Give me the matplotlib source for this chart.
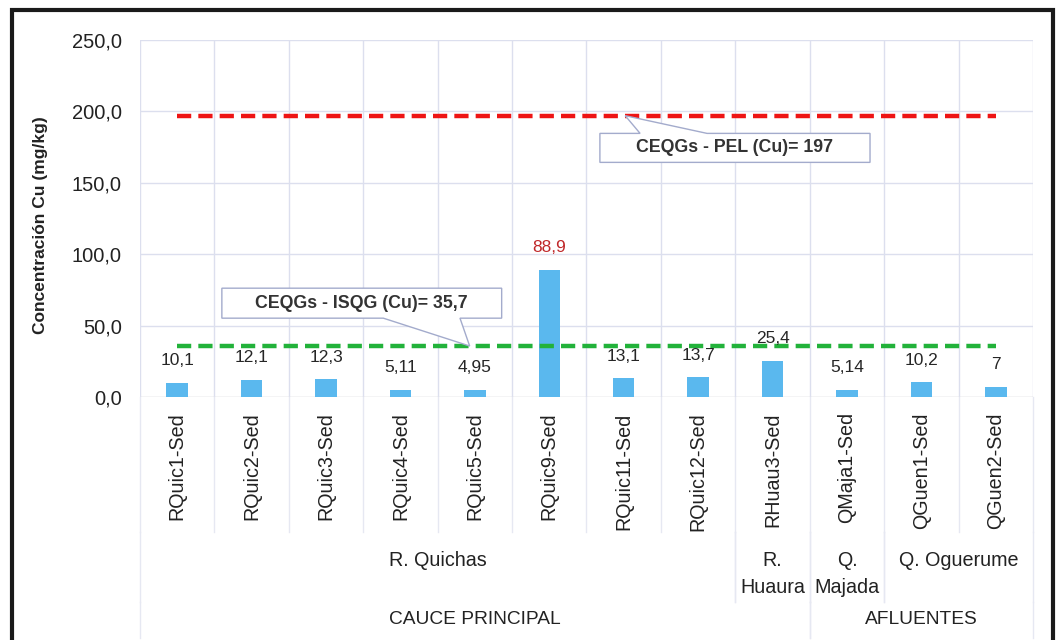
# Cu concentration in sediments - bar chart with CEQG reference lines
import matplotlib
matplotlib.use("Agg")
import matplotlib.pyplot as plt
import matplotlib.transforms as mtrans
from matplotlib.patches import Polygon, Rectangle
import numpy as np

plt.rcParams['font.family'] = ['Liberation Sans', 'DejaVu Sans']

# data
stations = ["RQuic1-Sed", "RQuic2-Sed", "RQuic3-Sed", "RQuic4-Sed", "RQuic5-Sed",
            "RQuic9-Sed", "RQuic11-Sed", "RQuic12-Sed", "RHuau3-Sed", "QMaja1-Sed",
            "QGuen1-Sed", "QGuen2-Sed"]
cu = [10.1, 12.1, 12.3, 5.11, 4.95, 88.9, 13.1, 13.7, 25.4, 5.14, 10.2, 7]
cu_text = ["10,1", "12,1", "12,3", "5,11", "4,95", "88,9", "13,1", "13,7", "25,4",
           "5,14", "10,2", "7"]
rivers = ["R. Quichas", "R.\nHuaura", "Q.\nMajada", "Q. Oguerume"]
river_span = [(0, 8), (8, 9), (9, 10), (10, 12)]
zones = ["CAUCE PRINCIPAL", "AFLUENTES"]
zone_span = [(0, 9), (9, 12)]
pel = 197
isqg = 35.7
yticks = [0, 50, 100, 150, 200, 250]

W, H = 1058, 640
fig = plt.figure(figsize=(W / 100, H / 100), dpi=100)
ax = fig.add_axes([140 / W, 1 - 397 / H, (1033 - 140) / W, (397 - 40) / H])

x = np.arange(len(stations))
ax.set_xlim(-0.5, len(stations) - 0.5)
ax.set_ylim(0, 250)

grid_c = "#dcdfee"
sep_c = "#e6e8f2"
for yv in yticks:
    ax.axhline(yv, color="#c8c8d0" if yv == 0 else grid_c, lw=1, zorder=0)

# category separators, extending down through the multi-level axis
trans = mtrans.blended_transform_factory(ax.transData, fig.transFigure)
y0 = 1 - 397 / H
for b in np.arange(len(stations) + 1) - 0.5:
    ax.axvline(b, color=grid_c, lw=1, zorder=0)
    ax.plot([b, b], [y0, 1 - 532 / H], color=sep_c, lw=1, transform=trans, clip_on=False)
for s, e in river_span:
    for b in (s - 0.5, e - 0.5):
        ax.plot([b, b], [1 - 532 / H, 1 - 602 / H], color=sep_c, lw=1,
                transform=trans, clip_on=False)
for s, e in zone_span:
    for b in (s - 0.5, e - 0.5):
        ax.plot([b, b], [1 - 602 / H, 1 - 638 / H], color=sep_c, lw=1,
                transform=trans, clip_on=False)

ax.bar(x, cu, width=0.29, color="#5ab8ee", zorder=2)

ax.plot([x[0], x[-1]], [pel, pel], color="#ee1414", lw=3.2, ls=(0, (3.2, 1.6)), zorder=3)
ax.plot([x[0], x[-1]], [isqg, isqg], color="#22b23a", lw=3.2, ls=(0, (3.2, 1.6)), zorder=3)

for xi, v, t in zip(x, cu, cu_text):
    ax.annotate(t, (xi, v), xytext=(0, 16), textcoords="offset points",
                ha="center", va="center", fontsize=12.5,
                color="#c0282a" if v > 50 else "#262626", zorder=4)

# callouts
def callout(x0, x1, ya, yb, base0, base1, tip, text, on_top):
    if on_top:
        pts = [(x0, yb), (x1, yb), (x1, ya), (base1, ya), tip, (base0, ya), (x0, ya)]
    else:
        pts = [(x0, yb), (base0, yb), tip, (base1, yb), (x1, yb), (x1, ya), (x0, ya)]
    ax.add_patch(Polygon(pts, closed=True, facecolor="white", edgecolor="#a3abcc",
                         lw=1, zorder=5))
    ax.text((x0 + x1) / 2, (ya + yb) / 2, text, ha="center", va="center",
            fontsize=12.8, fontweight="bold", color="#333333", zorder=6)

callout(5.68, 9.31, 184.6, 164.3, 6.22, 7.12, (6.02, pel),
        "CEQGs - PEL (Cu)= 197", True)
callout(0.60, 4.36, 76.2, 55.2, 2.77, 3.80, (3.93, isqg),
        "CEQGs - ISQG (Cu)= 35,7", False)

ax.set_xticks(x)
ax.set_xticklabels(stations, rotation=90, fontsize=14.2, color="#222222")
ax.set_yticks(yticks)
ax.set_yticklabels([f"{v:.1f}".replace(".", ",") for v in yticks], fontsize=14.5,
                   color="#222222")
ax.tick_params(axis="y", length=0, pad=13)
ax.tick_params(axis="x", length=0, pad=11)
for sp in ax.spines.values():
    sp.set_visible(False)

ax.set_ylabel("Concentración Cu (mg/kg)", fontsize=12.5, fontweight="bold",
              color="#222222")
ax.yaxis.set_label_coords(48 / W, 1 - 225 / H, transform=fig.transFigure)

for (s, e), lab in zip(river_span, rivers):
    fig.text((140 + ((s + e) / 2) * 74.42) / W, 1 - 551 / H, lab, ha="center",
             va="top", fontsize=14.2, color="#222222", linespacing=1.55)
for (s, e), lab in zip(zone_span, zones):
    fig.text((140 + ((s + e) / 2) * 74.42) / W, 1 - 619 / H, lab, ha="center",
             va="center", fontsize=13.8, color="#222222")

# outer frame
fig.add_artist(Rectangle((12 / W, -0.02), (1053 - 12) / W, 1.02 - 10 / H,
                         transform=fig.transFigure, fill=False, edgecolor="#1a1a1a",
                         lw=3))

fig.savefig("out.png", dpi=100)
